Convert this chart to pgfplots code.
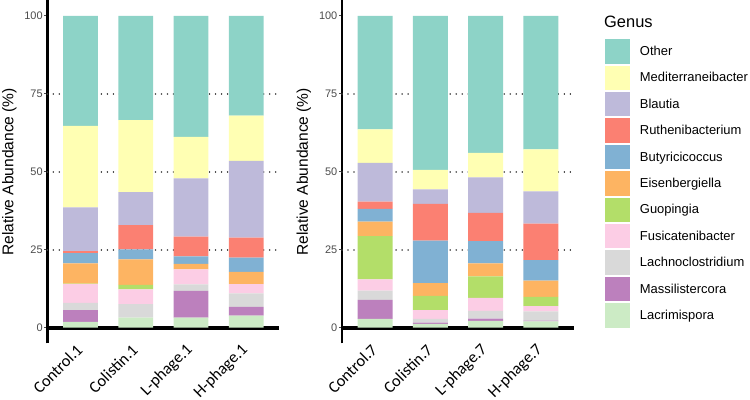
\documentclass[border=0pt]{standalone}
\usepackage{pgfplots}
\pgfplotsset{compat=1.18}
\usepackage{pgfplotstable}
\usepackage{fontspec}
\setmainfont{Liberation Sans}
\newfontfamily\calibri{Carlito}

% ColorBrewer Set3
\definecolor{cOther}{HTML}{8DD3C7}
\definecolor{cMedit}{HTML}{FFFFB3}
\definecolor{cBlautia}{HTML}{BEBADA}
\definecolor{cRuthen}{HTML}{FB8072}
\definecolor{cButyr}{HTML}{80B1D3}
\definecolor{cEisen}{HTML}{FDB462}
\definecolor{cGuop}{HTML}{B3DE69}
\definecolor{cFusi}{HTML}{FCCDE5}
\definecolor{cLachno}{HTML}{D9D9D9}
\definecolor{cMassil}{HTML}{BC80BD}
\definecolor{cLacri}{HTML}{CCEBC5}

% relative abundance (%) per genus, day 1 and day 7
\pgfplotstableread{
x Lacri Massil Lachno Fusi Guop Eisen Butyr Ruthen Blautia Medit Other
1 1.9 3.7 2.4 6.0 0.1 6.5 3.3 0.7 14.0 26.1 35.3
2 3.2 0.0 4.4 4.7 1.4 8.2 3.2 7.8 10.6 23.1 33.4
3 3.2 8.6 2.1 4.8 0.0 1.8 2.4 6.3 18.7 13.3 38.8
4 3.9 2.8 4.3 3.0 0.0 3.9 4.6 6.4 24.6 14.5 32.0
}\dayone
\pgfplotstableread{
x Lacri Massil Lachno Fusi Guop Eisen Butyr Ruthen Blautia Medit Other
1 2.8 6.1 3.0 3.6 13.9 4.6 4.1 2.3 12.5 10.7 36.4
2 1.2 0.4 1.2 2.8 4.6 4.1 13.6 11.8 4.7 6.2 49.4
3 2.2 0.7 2.5 4.2 6.9 4.1 7.2 9.0 11.4 7.9 43.9
4 2.0 0.3 2.9 1.7 3.0 5.2 6.6 11.7 10.3 13.5 42.8
}\dayseven

\pgfplotsset{
  abund/.style={
    ybar stacked, bar width=0.63,
    scale only axis, width=232bp, height=343bp,
    xmin=0.4, xmax=4.6, ymin=-5, ymax=105,
    axis lines*=left, axis line style={-},
    x axis line style={draw=none},
    y axis line style={line width=2.6bp, black},
    xtick={1,2,3,4}, xtick style={draw=none},
    ytick={0,25,50,75,100}, ytick pos=left, tick align=outside,
    major tick length=3bp, ytick style={line width=0.8bp, black!70},
    /pgf/number format/assume math mode=true,
    yticklabel style={font=\fontsize{11}{11}\selectfont, text=black!70, inner sep=1.5bp},
    xticklabel style={font=\calibri\fontsize{16.5}{16.5}\selectfont, rotate=45, anchor=east, inner sep=1bp},
    extra y ticks={25,50,75}, extra y tick labels={},
    extra y tick style={grid=major, major tick length=0pt},
    major grid style={black!75, line width=1.6bp, dash pattern=on 0.01bp off 6bp, line cap=round},
    ylabel={Relative Abundance (\%)},
    ylabel style={font=\fontsize{15.6}{15.6}\selectfont, at={(axis description cs:-0.164,0.5)}, anchor=center},
    clip=false,
  },
  seg/.style={fill=#1, draw=none,
    legend image code/.code={\fill[fill=#1] (0bp,-12.2bp) rectangle (24.6bp,12.2bp);}},
}

\begin{document}
\begin{tikzpicture}
\useasboundingbox (0,0) rectangle (750bp,400bp);

% day 1
\begin{axis}[abund, at={(47.3bp,56.7bp)}, anchor=south west,
  xticklabels={Control.1, Colistin.1, L-phage.1, H-phage.1}]
\addplot[seg=cLacri]   table[x=x, y=Lacri]   {\dayone};
\addplot[seg=cMassil]  table[x=x, y=Massil]  {\dayone};
\addplot[seg=cLachno]  table[x=x, y=Lachno]  {\dayone};
\addplot[seg=cFusi]    table[x=x, y=Fusi]    {\dayone};
\addplot[seg=cGuop]    table[x=x, y=Guop]    {\dayone};
\addplot[seg=cEisen]   table[x=x, y=Eisen]   {\dayone};
\addplot[seg=cButyr]   table[x=x, y=Butyr]   {\dayone};
\addplot[seg=cRuthen]  table[x=x, y=Ruthen]  {\dayone};
\addplot[seg=cBlautia] table[x=x, y=Blautia] {\dayone};
\addplot[seg=cMedit]   table[x=x, y=Medit]   {\dayone};
\addplot[seg=cOther]   table[x=x, y=Other]   {\dayone};
\draw[line width=4.3bp] (axis cs:0.4,0) -- (axis cs:4.6,0);
\end{axis}

% day 7
\begin{axis}[abund, at={(342bp,56.7bp)}, anchor=south west,
  xticklabels={Control.7, Colistin.7, L-phage.7, H-phage.7},
  reverse legend, legend cell align=left,
  legend style={at={(axis description cs:1.1342,0.887)}, anchor=north west,
    draw=none, fill=none, inner sep=0pt, row sep=2bp, column sep=10bp,
    font=\fontsize{13}{13}\selectfont, nodes={inner sep=0pt}}]
\addplot[seg=cLacri]   table[x=x, y=Lacri]   {\dayseven};
\addlegendentry{Lacrimispora}
\addplot[seg=cMassil]  table[x=x, y=Massil]  {\dayseven};
\addlegendentry{Massilistercora}
\addplot[seg=cLachno]  table[x=x, y=Lachno]  {\dayseven};
\addlegendentry{Lachnoclostridium}
\addplot[seg=cFusi]    table[x=x, y=Fusi]    {\dayseven};
\addlegendentry{Fusicatenibacter}
\addplot[seg=cGuop]    table[x=x, y=Guop]    {\dayseven};
\addlegendentry{Guopingia}
\addplot[seg=cEisen]   table[x=x, y=Eisen]   {\dayseven};
\addlegendentry{Eisenbergiella}
\addplot[seg=cButyr]   table[x=x, y=Butyr]   {\dayseven};
\addlegendentry{Butyricicoccus}
\addplot[seg=cRuthen]  table[x=x, y=Ruthen]  {\dayseven};
\addlegendentry{Ruthenibacterium}
\addplot[seg=cBlautia] table[x=x, y=Blautia] {\dayseven};
\addlegendentry{Blautia}
\addplot[seg=cMedit]   table[x=x, y=Medit]   {\dayseven};
\addlegendentry{Mediterraneibacter}
\addplot[seg=cOther]   table[x=x, y=Other]   {\dayseven};
\addlegendentry{Other}
\draw[line width=4.3bp] (axis cs:0.4,0) -- (axis cs:4.6,0);
\end{axis}

\node[anchor=base west, inner sep=0pt, font=\fontsize{16.5}{16.5}\selectfont] at (604bp,372.7bp) {Genus};
\end{tikzpicture}
\end{document}
